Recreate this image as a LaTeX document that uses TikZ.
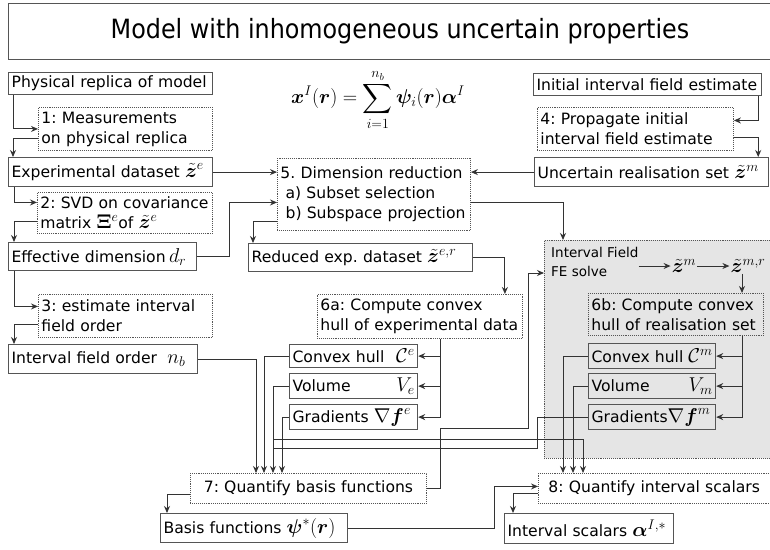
\RequirePackage{fix-cm}
\documentclass[tikz,border=0pt]{standalone}
\usepackage[no-math]{fontspec}
\usepackage{amsmath,bm}
\setmainfont{DejaVu Sans}
\newfontfamily\titlefont{DejaVu Sans Condensed}
\usetikzlibrary{arrows.meta,positioning,calc}
\definecolor{linec}{HTML}{333333}
\definecolor{boxc}{HTML}{555555}
\definecolor{regc}{HTML}{E5E5E5}
\DeclareMathSizes{15.6}{20}{14}{10}
\frenchspacing

\begin{document}
\begin{tikzpicture}[x=1pt, y=-1pt, font=\fontsize{15.6}{20}\selectfont,
	data/.style={draw=boxc, line width=1.2pt, anchor=north west, inner xsep=3pt, inner ysep=0pt, align=left},
	task/.style={draw=boxc, densely dotted, line width=0.9pt, anchor=north west, inner xsep=3pt, inner ysep=0pt, align=left},
	flow/.style={draw=linec, line width=1pt, -{Stealth[length=7pt,width=6pt]}},
	wire/.style={draw=linec, line width=1pt}]
	\fill[white] (0,0) rectangle (770,549);
	\useasboundingbox (0,0) rectangle (770,549);

	% title
	\node[draw=boxc, line width=1.2pt, anchor=north west, minimum width=767pt, minimum height=56pt] (hd) at (8,3) {};
	\node[font=\titlefont\fontsize{26.5}{30}\selectfont] (ht) at (400,31) {Model with inhomogeneous uncertain properties};
	\node (eq) at (378,100) {$\displaystyle \bm x^I(\bm r)=\sum_{i=1}^{n_b}\bm\psi_i(\bm r)\bm\alpha^I$};

	% FE region
	\node[fill=regc, draw=boxc, densely dotted, line width=0.9pt, anchor=north west, minimum width=246pt, minimum height=218pt] (fe) at (544,240) {};
	\node[font=\fontsize{13.5}{19}\selectfont, anchor=west, align=left, inner sep=0pt] (fs) at (551,262) {Interval Field\\FE solve};
	\node[inner sep=1pt] (zm) at (684,266) {$\tilde{\bm z}^m$};
	\node[inner sep=1pt] (zr) at (748,266) {$\tilde{\bm z}^{m,r}$};

	% experimental side
	\node[data, text width=198pt, minimum height=22pt] (p) at (8,72) {Physical replica of model};
	\node[task, text width=168pt, minimum height=43pt] (m1) at (38,107) {1: Measurements\\on physical replica};
	\node[data, text width=198pt, minimum height=29pt] (ed) at (8,157) {Experimental dataset $\tilde{\bm z}^e$};
	\node[task, text width=169pt, minimum height=41pt] (m2) at (37,192) {2: SVD on covariance\\matrix $\bm\Xi^e$of $\tilde{\bm z}^e$};
	\node[data, text width=182pt, minimum height=28pt] (dr) at (8,242) {Effective dimension$\,d_r$};
	\node[task, text width=168pt, minimum height=43pt] (m3) at (38,294) {3: estimate interval\\field order};
	\node[data, text width=183pt, minimum height=29pt] (nb) at (8,344) {Interval field order \ $n_b$};

	% model side
	\node[data, text width=222pt, minimum height=22pt] (ie) at (533,73) {Initial interval field estimate};
	\node[task, text width=190pt, minimum height=43pt] (m4) at (537,107) {4: Propagate initial\\interval field estimate};
	\node[data, text width=228pt, minimum height=29pt] (ur) at (534,157) {Uncertain realisation set $\tilde{\bm z}^m$};

	\node[task, text width=187pt, minimum height=72pt] (m5) at (277,158) {5. Dimension reduction\\\ a) Subset selection\\\ b) Subspace projection};
	\node[data, text width=218pt, minimum height=28pt] (er) at (248,243) {Reduced exp. dataset $\tilde{\bm z}^{e,r}$};

	\node[task, text width=199pt, minimum height=44pt] (m6a) at (317,294) {6a: Compute convex\\hull of experimental data};
	\node[data, text width=122pt, minimum height=23pt] (ce) at (289,344) {Convex hull \hfill$\mathcal{C}^e$};
	\node[data, text width=122pt, minimum height=25pt] (ve) at (289,373) {Volume\hfill$V_e$};
	\node[data, text width=122pt, minimum height=25pt] (ge) at (289,404) {Gradients $\nabla\bm f^e$};

	\node[task, text width=169pt, minimum height=42pt] (m6b) at (588,293) {6b: Compute convex\\hull of realisation set};
	\node[data, text width=121pt, minimum height=25pt] (cm) at (588,343) {Convex hull\hfill$\mathcal{C}^m$};
	\node[data, text width=121pt, minimum height=25pt] (vm) at (588,373) {Volume\hfill$V_m$};
	\node[data, text width=121pt, minimum height=25pt] (gm) at (588,404) {Gradients$\nabla\bm f^m$};

	\node[task, text width=230pt, minimum height=30pt, align=center] (m7) at (190,473) {7: Quantify basis functions};
	\node[data, text width=181pt, minimum height=29pt] (bf) at (160,513) {Basis functions $\bm\psi^*(\bm r)$};
	\node[task, text width=220pt, minimum height=30pt, inner xsep=10pt] (m8) at (538,473) {8: Quantify interval scalars};
	\node[data, text width=163pt, minimum height=30pt] (is) at (504,513) {Interval scalars $\bm\alpha^{I,*}$};

	% connectors
	\draw[flow] ([xshift=5pt]p.south west) |- (m1.west);
	\draw[flow] ([yshift=-9.5pt]m1.west) -| ([xshift=5pt]ed.north west);
	\draw[flow] (ed.east) -- (ed.east -| m5.west);
	\draw[flow] ([xshift=6pt]ed.south west) |- ([yshift=10.5pt]m2.west);
	\draw[flow] ([yshift=-8.5pt]m2.west) -| ([xshift=6pt]dr.north west);
	\draw[flow] (dr.east) -- ++(32,0) |- ([yshift=-8pt]m5.west);
	\draw[flow] ([xshift=6pt]dr.south west) |- ([yshift=9.5pt]m3.west);
	\draw[flow] ([yshift=-9pt]m3.west) -| ([xshift=6pt]nb.north west);

	\draw[flow] ([xshift=-4pt]ie.south east) |- ([yshift=8.5pt]m4.east);
	\draw[flow] ([yshift=-9pt]m4.east) -| ([xshift=-11pt]ur.north east);
	\draw[flow] (ur.west) -- (ur.west -| m5.east);
	\draw[flow] ([yshift=-8pt]m5.east) -| ([xshift=19pt]fe.north west);
	\draw[flow] ([yshift=-27pt]m5.west) -| ([xshift=5pt]er.north west);
	\draw[flow] (er.east) -| ([xshift=-18pt]m6a.north east);

	\coordinate (sa) at ([xshift=-82pt]m6a.south east);
	\draw[flow] (sa) |- (ce.east);
	\draw[flow] (sa) |- (ve.east);
	\draw[flow] (sa) |- (ge.east);

	\draw[flow] (fs.east |- zm.west) -- (zm.west);
	\draw[flow] (zm.east) -- (zr.west);
	\draw[flow] ([xshift=-6pt]zr.south) -- ([xshift=-6pt]zr.south |- m6b.north);
	\coordinate (sb) at ([xshift=-21pt]m6b.south east);
	\draw[flow] (sb) |- (cm.east);
	\draw[flow] (sb) |- (vm.east);
	\draw[flow] (sb) |- (gm.east);

	\draw[flow] (nb.east) -| ([xshift=66pt]m7.north west);
	\draw[flow] (ce.west) -| ([xshift=74pt]m7.north west);
	\draw[flow] (ve.west) -| ([xshift=83pt]m7.north west);
	\draw[flow] (ge.west) -| ([xshift=92pt]m7.north west);
	\coordinate (vj) at (273,439);
	\coordinate (gj) at (273,448);
	\draw[flow] (vj) -| ([xshift=45pt]m8.north west);
	\draw[flow] (cm.west) -| ([xshift=25pt]m8.north west);
	\draw[flow] (vm.west) -| ([xshift=35pt]m8.north west);
	\draw[wire] (gm.west) -- ++(-51,0) |- (gj);

	\draw[flow] (m7.east) -- ++(14,0) |- (528,428) |- ([yshift=-33pt]fe.north west);
	\draw[flow] ([yshift=-6pt]m7.west) -| ([xshift=7pt]bf.north west);
	\draw[flow] (bf.east) -- ++(146,0) |- ([yshift=2pt]m8.west);
	\draw[flow] ([yshift=-5pt]m8.west) -| ([xshift=9pt]is.north west);
\end{tikzpicture}
\end{document}
